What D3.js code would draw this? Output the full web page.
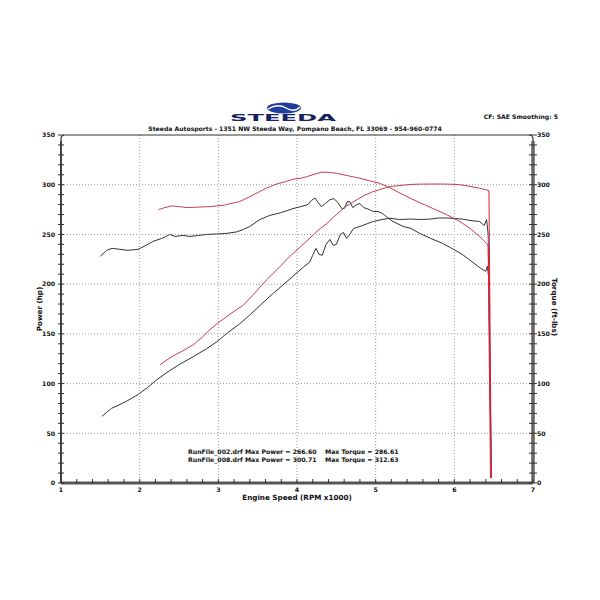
<!DOCTYPE html>
<html>
<head>
<meta charset="utf-8">
<script src="https://cdn.jsdelivr.net/npm/d3@7"></script>
<style>
  body { margin: 0; background: #fff; }
  text { font-family: "DejaVu Sans", Verdana, sans-serif; font-weight: bold; fill: #111; }
</style>
</head>
<body>
<div id="chart"></div>
<script>
// RunFile_002 (black) and RunFile_008 (red), rpm x1000 vs value
const rpm002hp = [1.52,1.58,1.64,1.75,1.85,1.98,2.10,2.22,2.38,2.50,2.68,2.85,2.98,3.10,3.27,3.40,3.55,3.70,3.82,3.95,4.08,4.16,4.20,4.24,4.28,4.32,4.37,4.42,4.46,4.50,4.55,4.59,4.63,4.67,4.72,4.80,4.90,4.97,5.08,5.18,5.30,5.45,5.56,5.70,5.80,5.90,6.00,6.10,6.20,6.32,6.38,6.41,6.43,6.47];
const hp002 =    [67,71,75,79,83,89,96,104,113,119,127,135,142,150,160,169,180,191,199,208,217,222,229,236,230,229,240,245,239,240,250,252,246,250,256,258,261,263,265,266.3,265,265.5,265,265.5,266.5,266.6,266,265.5,264,263,259,265,250,5];

const rpm002tq = [1.50,1.58,1.65,1.75,1.85,1.98,2.08,2.17,2.28,2.34,2.38,2.45,2.55,2.64,2.75,2.85,2.98,3.10,3.23,3.32,3.40,3.53,3.65,3.80,3.95,4.05,4.14,4.18,4.23,4.27,4.31,4.36,4.42,4.47,4.52,4.57,4.60,4.64,4.67,4.71,4.76,4.80,4.85,4.92,4.97,5.03,5.09,5.15,5.22,5.35,5.45,5.56,5.70,5.85,5.99,6.10,6.20,6.30,6.37,6.40,6.42,6.44,6.47];
const tq002 =    [228,234,236,235,234,235,239,243,246,248,250,248,249,248,249,250,250.5,251,252.5,255,258,265,269,272,276,278,280,284,286.6,282,278,281,285,286,282,276,276,283,283,277,280,281,277,275,273,273,271,267,263,258,256,251,246,241,235,230,224,218,214,213,218,205,5];

const rpm008hp = [2.26,2.35,2.43,2.55,2.68,2.80,2.89,2.98,3.15,3.32,3.45,3.61,3.75,3.91,4.05,4.16,4.28,4.38,4.50,4.60,4.72,4.85,4.95,5.05,5.15,5.22,5.35,5.45,5.56,5.70,5.85,5.95,6.07,6.15,6.25,6.32,6.40,6.44,6.47];
const hp008 =    [119,124,128,133,139,147,154,160,170,179,190,204,215,228,238,246,255,261,270,277,283,289,292.5,295,297.5,298.5,299.5,300.3,300.6,300.7,300.7,300.5,300,299,297.5,296.5,295,294,5];

const rpm008tq = [2.24,2.32,2.41,2.50,2.60,2.75,2.90,2.98,3.08,3.15,3.27,3.35,3.45,3.61,3.75,3.85,3.95,4.05,4.12,4.20,4.31,4.40,4.50,4.65,4.80,4.92,5.05,5.18,5.31,5.45,5.56,5.73,5.90,6.07,6.20,6.32,6.41,6.43,6.46];
const tq008 =    [275,277,278.7,278,277,277.5,278,278.7,279.5,281,283,286,290,296.5,301,303,305.5,306.5,308,310,312.6,312.5,311.5,309,306.5,304,301.5,297,291.5,286,282,276,270,263,256,248,241,238,5];

const xTicks = [1, 2, 3, 4, 5, 6, 7];
const yTicks = [0, 50, 100, 150, 200, 250, 300, 350];
const legendLines = [
  ["RunFile_002.drf Max Power = 266.60", "Max Torque = 286.61"],
  ["RunFile_008.drf Max Power = 300.71", "Max Torque = 312.63"]
];

const svgWidth = 600;
const svgHeight = 600;
const margin = { top: 135, right: 67, bottom: 117, left: 61 };
const width = svgWidth - margin.left - margin.right;
const height = svgHeight - margin.top - margin.bottom;

const svg = d3.select("#chart")
  .append("svg")
  .attr("width", svgWidth)
  .attr("height", svgHeight);

const chartGroup = svg.append("g")
  .attr("transform", `translate(${margin.left}, ${margin.top})`);

const x = d3.scaleLinear().domain([1, 7]).range([0, width]);
const yL = d3.scaleLinear().domain([0, 350]).range([height, 0]);
const yR = d3.scaleLinear().domain([0, 350]).range([height, 0]);

// dotted grid
chartGroup.append("g")
  .selectAll("line")
  .data(xTicks.slice(1, -1))
  .join("line")
  .attr("x1", d => x(d)).attr("x2", d => x(d))
  .attr("y1", 0).attr("y2", height)
  .attr("stroke", "#9a9a9a")
  .attr("stroke-dasharray", "1,2");

chartGroup.append("g")
  .selectAll("line")
  .data(yTicks.slice(1, -1))
  .join("line")
  .attr("x1", 0).attr("x2", width)
  .attr("y1", d => yL(d)).attr("y2", d => yL(d))
  .attr("stroke", "#9a9a9a")
  .attr("stroke-dasharray", "1,2");

// frame: left, top, right with rounded top corners
const r = 4;
chartGroup.append("path")
  .attr("d", `M0,${height} L0,${r} Q0,0 ${r},0 L${width - r},0 Q${width},0 ${width},${r} L${width},${height}`)
  .attr("fill", "none")
  .attr("stroke", "#333")
  .attr("stroke-width", 1.2);

// thick left / right / bottom axis bars
chartGroup.append("line")
  .attr("x1", 0).attr("x2", 0).attr("y1", 6).attr("y2", height)
  .attr("stroke", "#444").attr("stroke-width", 2);
chartGroup.append("line")
  .attr("x1", width).attr("x2", width).attr("y1", 6).attr("y2", height)
  .attr("stroke", "#666").attr("stroke-width", 3.5);
chartGroup.append("line")
  .attr("x1", 0).attr("x2", width).attr("y1", height).attr("y2", height)
  .attr("stroke", "#555").attr("stroke-width", 3);

// minor ticks
chartGroup.append("g")
  .selectAll("line")
  .data(d3.range(0, 351, 10))
  .join("line")
  .attr("x1", -3).attr("x2", 3)
  .attr("y1", d => yL(d)).attr("y2", d => yL(d))
  .attr("stroke", "#333");

chartGroup.append("g")
  .selectAll("line")
  .data(d3.range(0, 351, 10))
  .join("line")
  .attr("x1", width - 4).attr("x2", width + 4)
  .attr("y1", d => yR(d)).attr("y2", d => yR(d))
  .attr("stroke", "#333");

chartGroup.append("g")
  .selectAll("line")
  .data(d3.range(1, 7.01, 0.2))
  .join("line")
  .attr("x1", d => x(d)).attr("x2", d => x(d))
  .attr("y1", height - 4).attr("y2", height)
  .attr("stroke", "#333");

// tick labels
chartGroup.append("g")
  .selectAll("text")
  .data(yTicks)
  .join("text")
  .attr("x", -6)
  .attr("y", d => yL(d) + 2.3)
  .attr("text-anchor", "end")
  .attr("font-size", "6.2px")
  .text(d => d);

chartGroup.append("g")
  .selectAll("text")
  .data(yTicks)
  .join("text")
  .attr("x", width + 4)
  .attr("y", d => yR(d) + 2.3)
  .attr("font-size", "6.2px")
  .text(d => d);

chartGroup.append("g")
  .selectAll("text")
  .data(xTicks)
  .join("text")
  .attr("x", d => x(d))
  .attr("y", height + 9)
  .attr("text-anchor", "middle")
  .attr("font-size", "6.2px")
  .text(d => d);

// axis titles
chartGroup.append("text")
  .attr("x", width / 2)
  .attr("y", height + 17)
  .attr("text-anchor", "middle")
  .attr("font-size", "7.2px")
  .text("Engine Speed (RPM x1000)");

chartGroup.append("text")
  .attr("transform", `translate(-19, ${yL(175)}) rotate(-90)`)
  .attr("text-anchor", "middle")
  .attr("font-size", "7.2px")
  .text("Power (hp)");

chartGroup.append("text")
  .attr("transform", `translate(${width + 19}, ${yR(177)}) rotate(90)`)
  .attr("text-anchor", "middle")
  .attr("font-size", "7.2px")
  .text("Torque (ft-lbs)");

// curves
const line = d3.line()
  .x(d => x(d[0]))
  .y(d => yL(d[1]));

const series = [
  { rpm: rpm002tq, vals: tq002, color: "#333", drop: "#3a4a8a" },
  { rpm: rpm002hp, vals: hp002, color: "#333", drop: "#3a4a8a" },
  { rpm: rpm008tq, vals: tq008, color: "#c2404e", drop: "#e0202a" },
  { rpm: rpm008hp, vals: hp008, color: "#c2404e", drop: "#e0202a" }
];

series.forEach(s => {
  const pts = s.rpm.map((v, i) => [v, s.vals[i]]);
  chartGroup.append("path")
    .datum(pts.slice(0, -1))
    .attr("fill", "none")
    .attr("stroke", s.color)
    .attr("stroke-width", 1)
    .attr("stroke-linejoin", "round")
    .attr("d", line);
  // final fall-off at shift point
  chartGroup.append("path")
    .datum(pts.slice(-2))
    .attr("fill", "none")
    .attr("stroke", s.drop)
    .attr("stroke-width", 1)
    .attr("d", line);
});

// legend text
const legend = chartGroup.append("g");
legendLines.forEach((l, i) => {
  legend.append("text")
    .attr("x", 127)
    .attr("y", 319 + i * 8)
    .attr("font-size", "6.2px")
    .text(l[0]);
  legend.append("text")
    .attr("x", 264)
    .attr("y", 319 + i * 8)
    .attr("font-size", "6.2px")
    .text(l[1]);
});

// header
const header = svg.append("g");
header.append("ellipse")
  .attr("cx", 284).attr("cy", 108)
  .attr("rx", 17).attr("ry", 5.5)
  .attr("fill", "#1f3d9c");
header.append("path")
  .attr("d", "M268,109 Q278,103 286,108 Q294,113 300,107")
  .attr("fill", "none")
  .attr("stroke", "#fff")
  .attr("stroke-width", 1.4);
header.append("text")
  .attr("x", 283).attr("y", 121)
  .attr("text-anchor", "middle")
  .attr("font-size", "9px")
  .attr("font-weight", "900")
  .attr("textLength", 106)
  .attr("lengthAdjust", "spacingAndGlyphs")
  .style("fill", "#16225e")
  .text("STEEDA");
header.append("text")
  .attr("x", 295).attr("y", 131)
  .attr("text-anchor", "middle")
  .attr("font-size", "6.1px")
  .text("Steeda Autosports - 1351 NW Steeda Way, Pompano Beach, FL 33069 - 954-960-0774");
header.append("text")
  .attr("x", 558).attr("y", 119)
  .attr("text-anchor", "end")
  .attr("font-size", "6.1px")
  .text("CF: SAE  Smoothing: 5");
</script>
</body>
</html>
